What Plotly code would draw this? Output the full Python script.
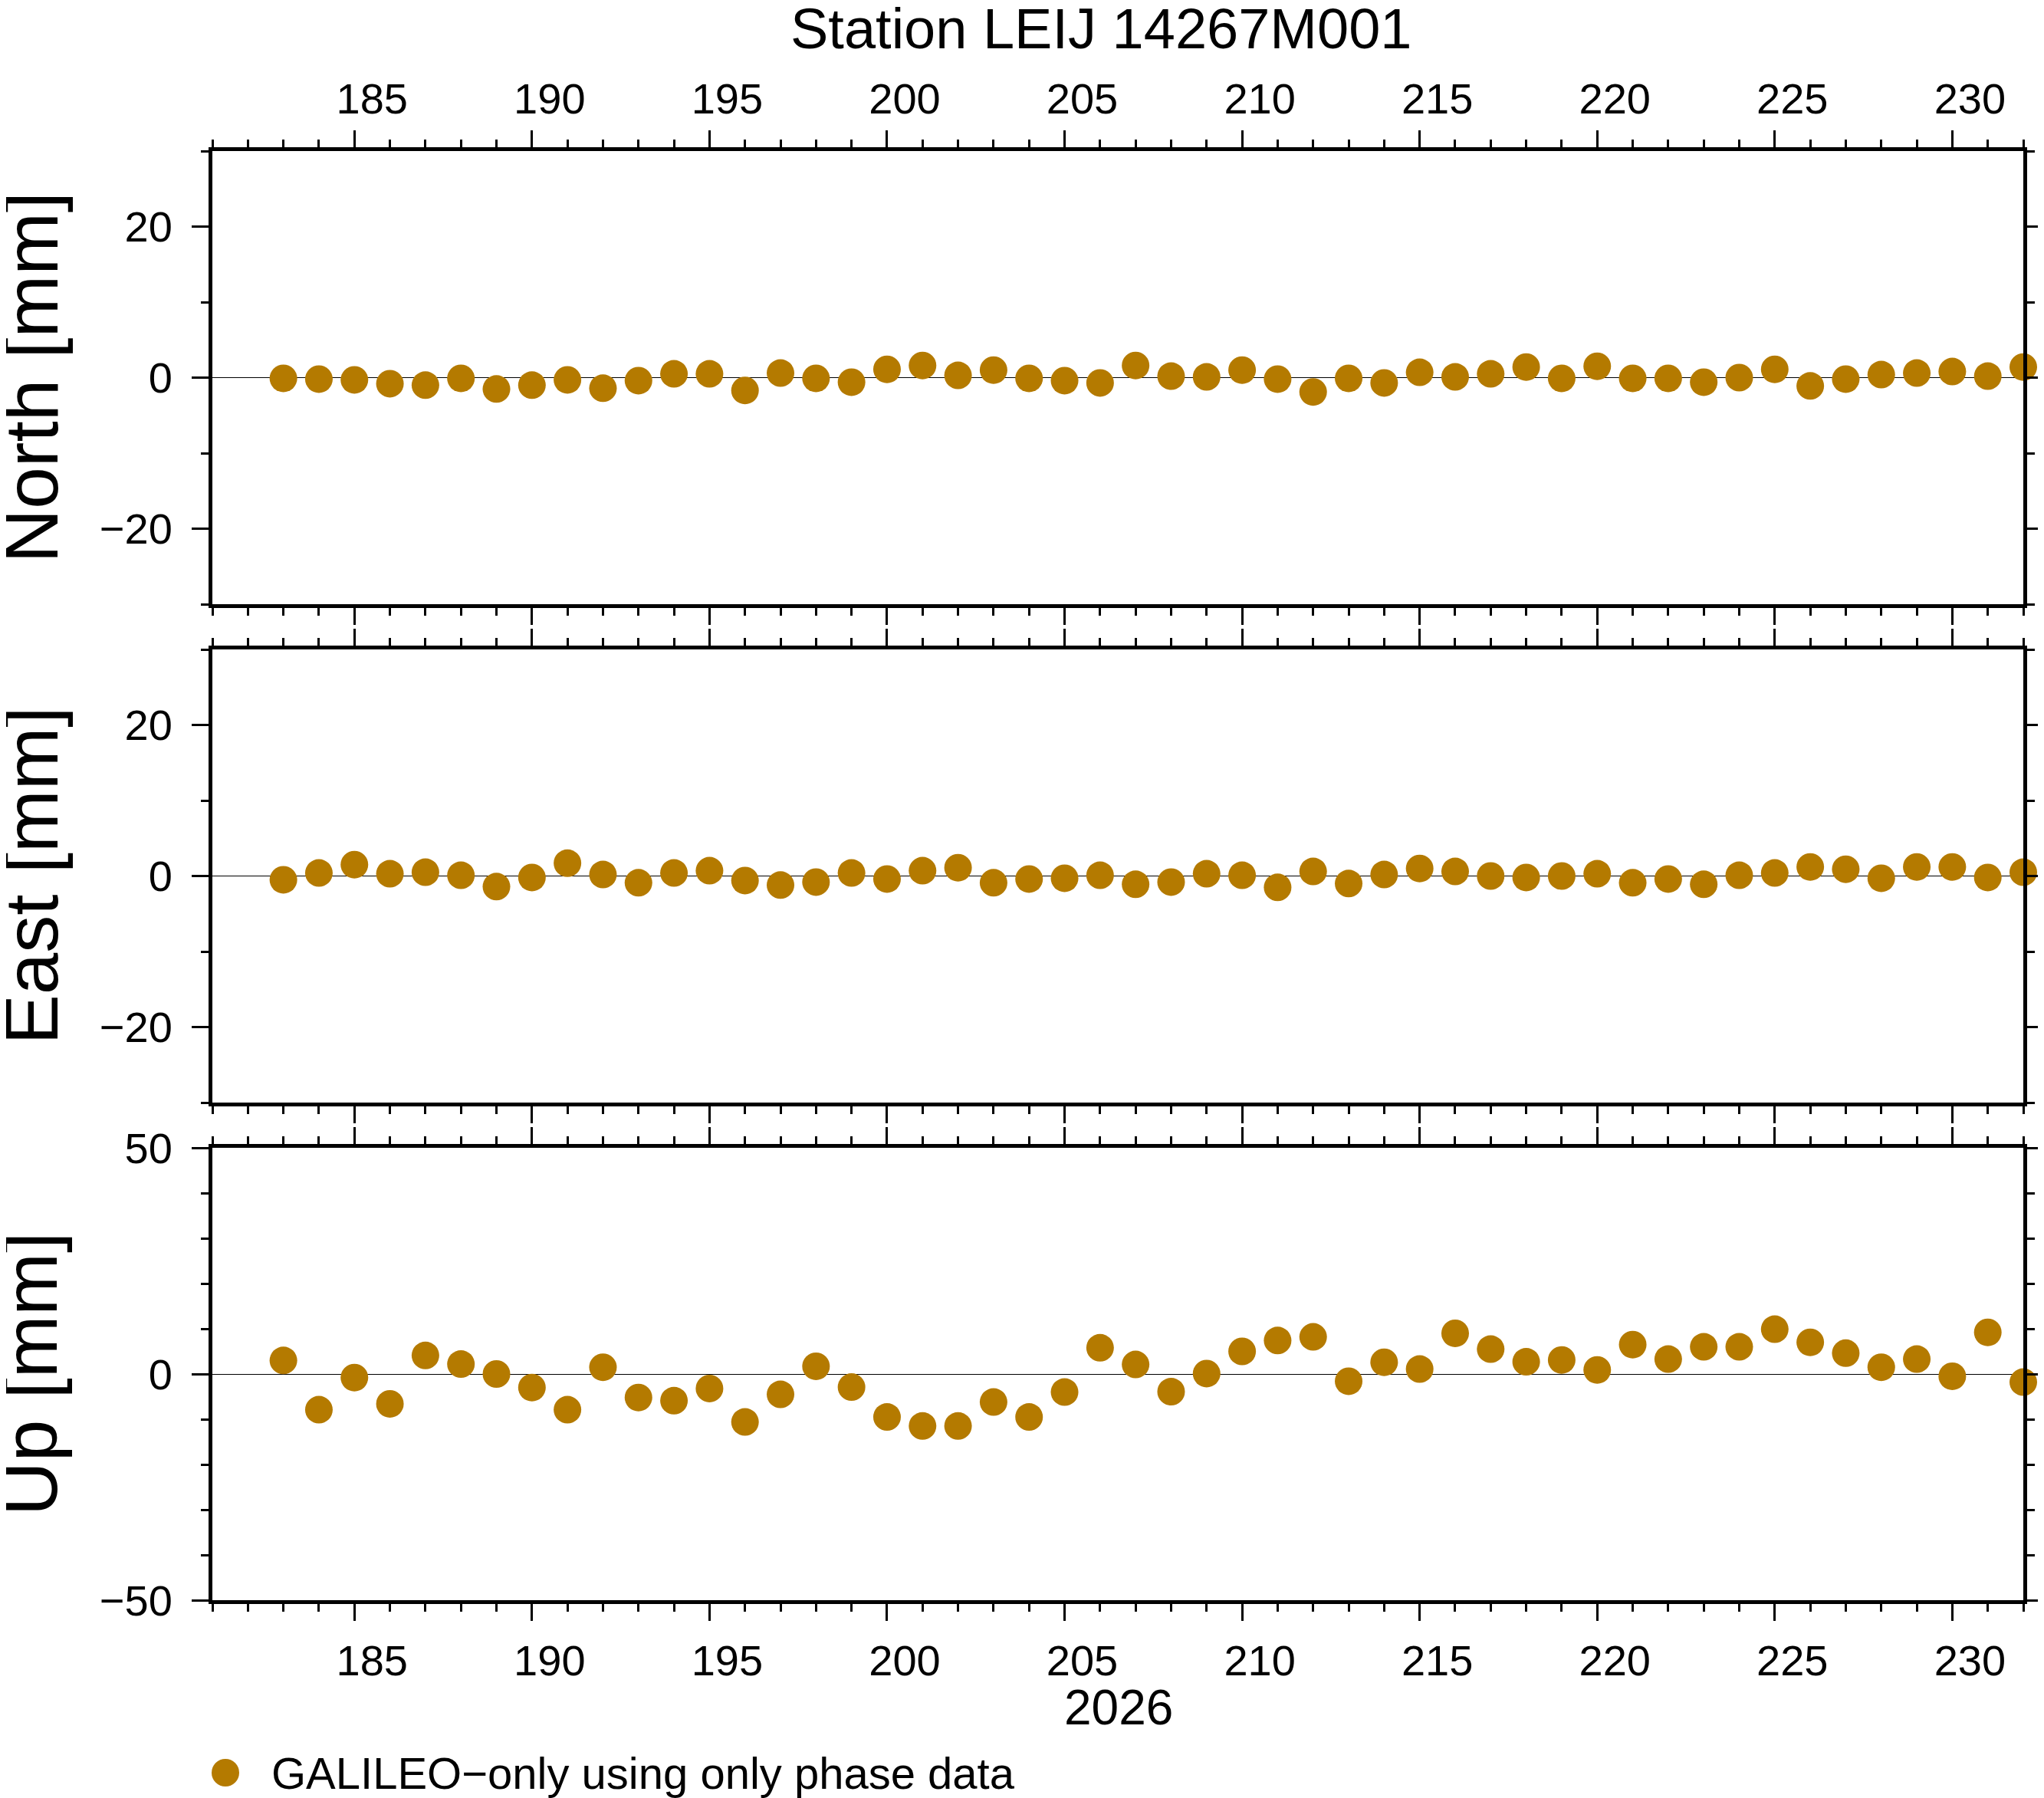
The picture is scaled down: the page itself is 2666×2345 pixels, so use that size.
import plotly.graph_objects as go

# day of year 2026
days = [183, 184, 185, 186, 187, 188, 189, 190, 191, 192, 193, 194, 195, 196, 197, 198, 199,
        200, 201, 202, 203, 204, 205, 206, 207, 208, 209, 210, 211, 212, 213, 214, 215, 216,
        217, 218, 219, 220, 221, 222, 223, 224, 225, 226, 227, 228, 229, 230, 231, 232]

# residuals in mm
north = [-0.1, -0.2, -0.3, -0.8, -1.0, -0.1, -1.5, -1.0, -0.3, -1.4, -0.4, 0.5, 0.5, -1.7, 0.6,
         -0.1, -0.6, 1.1, 1.6, 0.3, 1.0, -0.1, -0.4, -0.7, 1.6,
         0.2, 0.1, 1.0, -0.2, -1.9, -0.1, -0.7, 0.7, 0.1, 0.5, 1.4, -0.1, 1.5, -0.1, -0.1,
         -0.6, 0.0, 1.1, -1.1, -0.2, 0.4, 0.6, 0.8, 0.2, 1.4]
east = [-0.5, 0.4, 1.5, 0.3, 0.5, 0.1, -1.4, -0.2, 1.7, 0.2, -0.9, 0.4, 0.7, -0.6, -1.2,
        -0.8, 0.4, -0.4, 0.7, 1.1, -0.9, -0.4, -0.3, 0.1, -1.1,
        -0.8, 0.3, 0.1, -1.5, 0.6, -1.0, 0.2, 1.0, 0.6, 0.0, -0.2, 0.0, 0.3, -0.9, -0.4,
        -1.1, 0.1, 0.4, 1.2, 0.9, -0.3, 1.2, 1.2, -0.2, 0.5]
up = [3.0, -7.9, -0.8, -6.6, 4.1, 2.2, 0.0, -3.0, -7.9, 1.5, -5.2, -5.9, -3.2, -10.6, -4.5,
      1.7, -2.9, -9.5, -11.5, -11.5, -6.2, -9.5, -4.0, 5.8, 2.1,
      -3.9, 0.1, 5.0, 7.4, 8.2, -1.6, 2.6, 1.1, 9.0, 5.5, 2.7, 3.1, 0.9, 6.5, 3.3,
      6.0, 6.0, 9.9, 7.0, 4.6, 1.5, 3.3, -0.5, 9.2, -1.8]

panel_labels = ["North [mm]", "East [mm]", "Up [mm]"]
year_label = "2026"
title_text = "Station LEIJ 14267M001"
legend_text = "GALILEO\u2212only using only phase data"

W, H = 2666, 2345
OFF = 8  # page body margin
DOT = "#b47a00"
FONT = "Liberation Sans, Arial, Helvetica, sans-serif"

# panel positions in pixels (top, bottom)
panels = [(197, 788), (847, 1438), (1497, 2087)]
x_left, x_right = 277, 2639


def px(v):
    return (v - OFF) / W


def py(v):
    return 1 - (v - OFF) / H


fig = go.Figure()
series = [north, east, up]
for i, vals in enumerate(series):
    n = "" if i == 0 else str(i + 1)
    fig.add_trace(go.Scatter(
        x=days, y=vals, mode="markers", xaxis="x" + n, yaxis="y" + n,
        marker=dict(size=36, color=DOT, line=dict(width=0)),
        cliponaxis=False, showlegend=False, hoverinfo="skip",
    ))

tick_common = dict(ticks="outside", tickwidth=2.5, tickcolor="black",
                   showline=True, linewidth=5, linecolor="black", mirror="allticks",
                   showgrid=False, tickfont=dict(size=56, color="black", family=FONT))

layout = dict(width=W, height=H, margin=dict(l=0, r=0, t=0, b=0),
              paper_bgcolor="white", plot_bgcolor="white", template="none",
              font=dict(family=FONT, color="black"))

for i, (top, bot) in enumerate(panels):
    n = "" if i == 0 else str(i + 1)
    xa = dict(tick_common, domain=[px(x_left), px(x_right)], range=[181, 232],
              tick0=0, dtick=5, ticklen=22, zeroline=False,
              anchor="y" + n, ticklabelshift=23, ticklabelstandoff=4,
              minor=dict(dtick=1, tick0=0, ticks="outside", ticklen=10, tickwidth=2.5,
                         tickcolor="black", showgrid=False))
    if i == 0:
        xa["side"] = "top"
        xa["ticklabelstandoff"] = 0
    elif i == 1:
        xa["showticklabels"] = False
    lim = 50 if i == 2 else 30
    ya = dict(tick_common, domain=[py(bot), py(top)], range=[-lim, lim],
              tick0=0, dtick=lim if i == 2 else 20, ticklen=22,
              zeroline=True, zerolinecolor="black", zerolinewidth=1.2,
              anchor="x" + n, ticklabelstandoff=14,
              minor=dict(dtick=10, tick0=0, ticks="outside", ticklen=10, tickwidth=2.5,
                         tickcolor="black", showgrid=False))
    layout["xaxis" + n] = xa
    layout["yaxis" + n] = ya

annotations = [
    dict(text=title_text, x=px(1436), y=py(38), xref="paper", yref="paper",
         showarrow=False, xanchor="center", yanchor="middle", font=dict(size=74)),
    dict(text=year_label, x=px(1459), y=py(2227), xref="paper", yref="paper",
         showarrow=False, xanchor="center", yanchor="middle", font=dict(size=64)),
    dict(text=legend_text, x=px(352), y=py(2312), xref="paper", yref="paper",
         showarrow=False, xanchor="left", yanchor="middle", font=dict(size=58)),
]
for lab, (top, bot) in zip(panel_labels, panels):
    annotations.append(dict(text=lab, x=px(40), y=py((top + bot) / 2), xref="paper",
                            yref="paper", showarrow=False, textangle=-90,
                            xanchor="center", yanchor="middle", font=dict(size=98)))
layout["annotations"] = annotations

# legend swatch
layout["shapes"] = [dict(type="circle", xref="paper", yref="paper",
                         x0=px(294 - 18), x1=px(294 + 18),
                         y0=py(2312 + 18), y1=py(2312 - 18),
                         fillcolor=DOT, line=dict(width=0))]

fig.update_layout(**layout)
fig.write_html("out.html")
